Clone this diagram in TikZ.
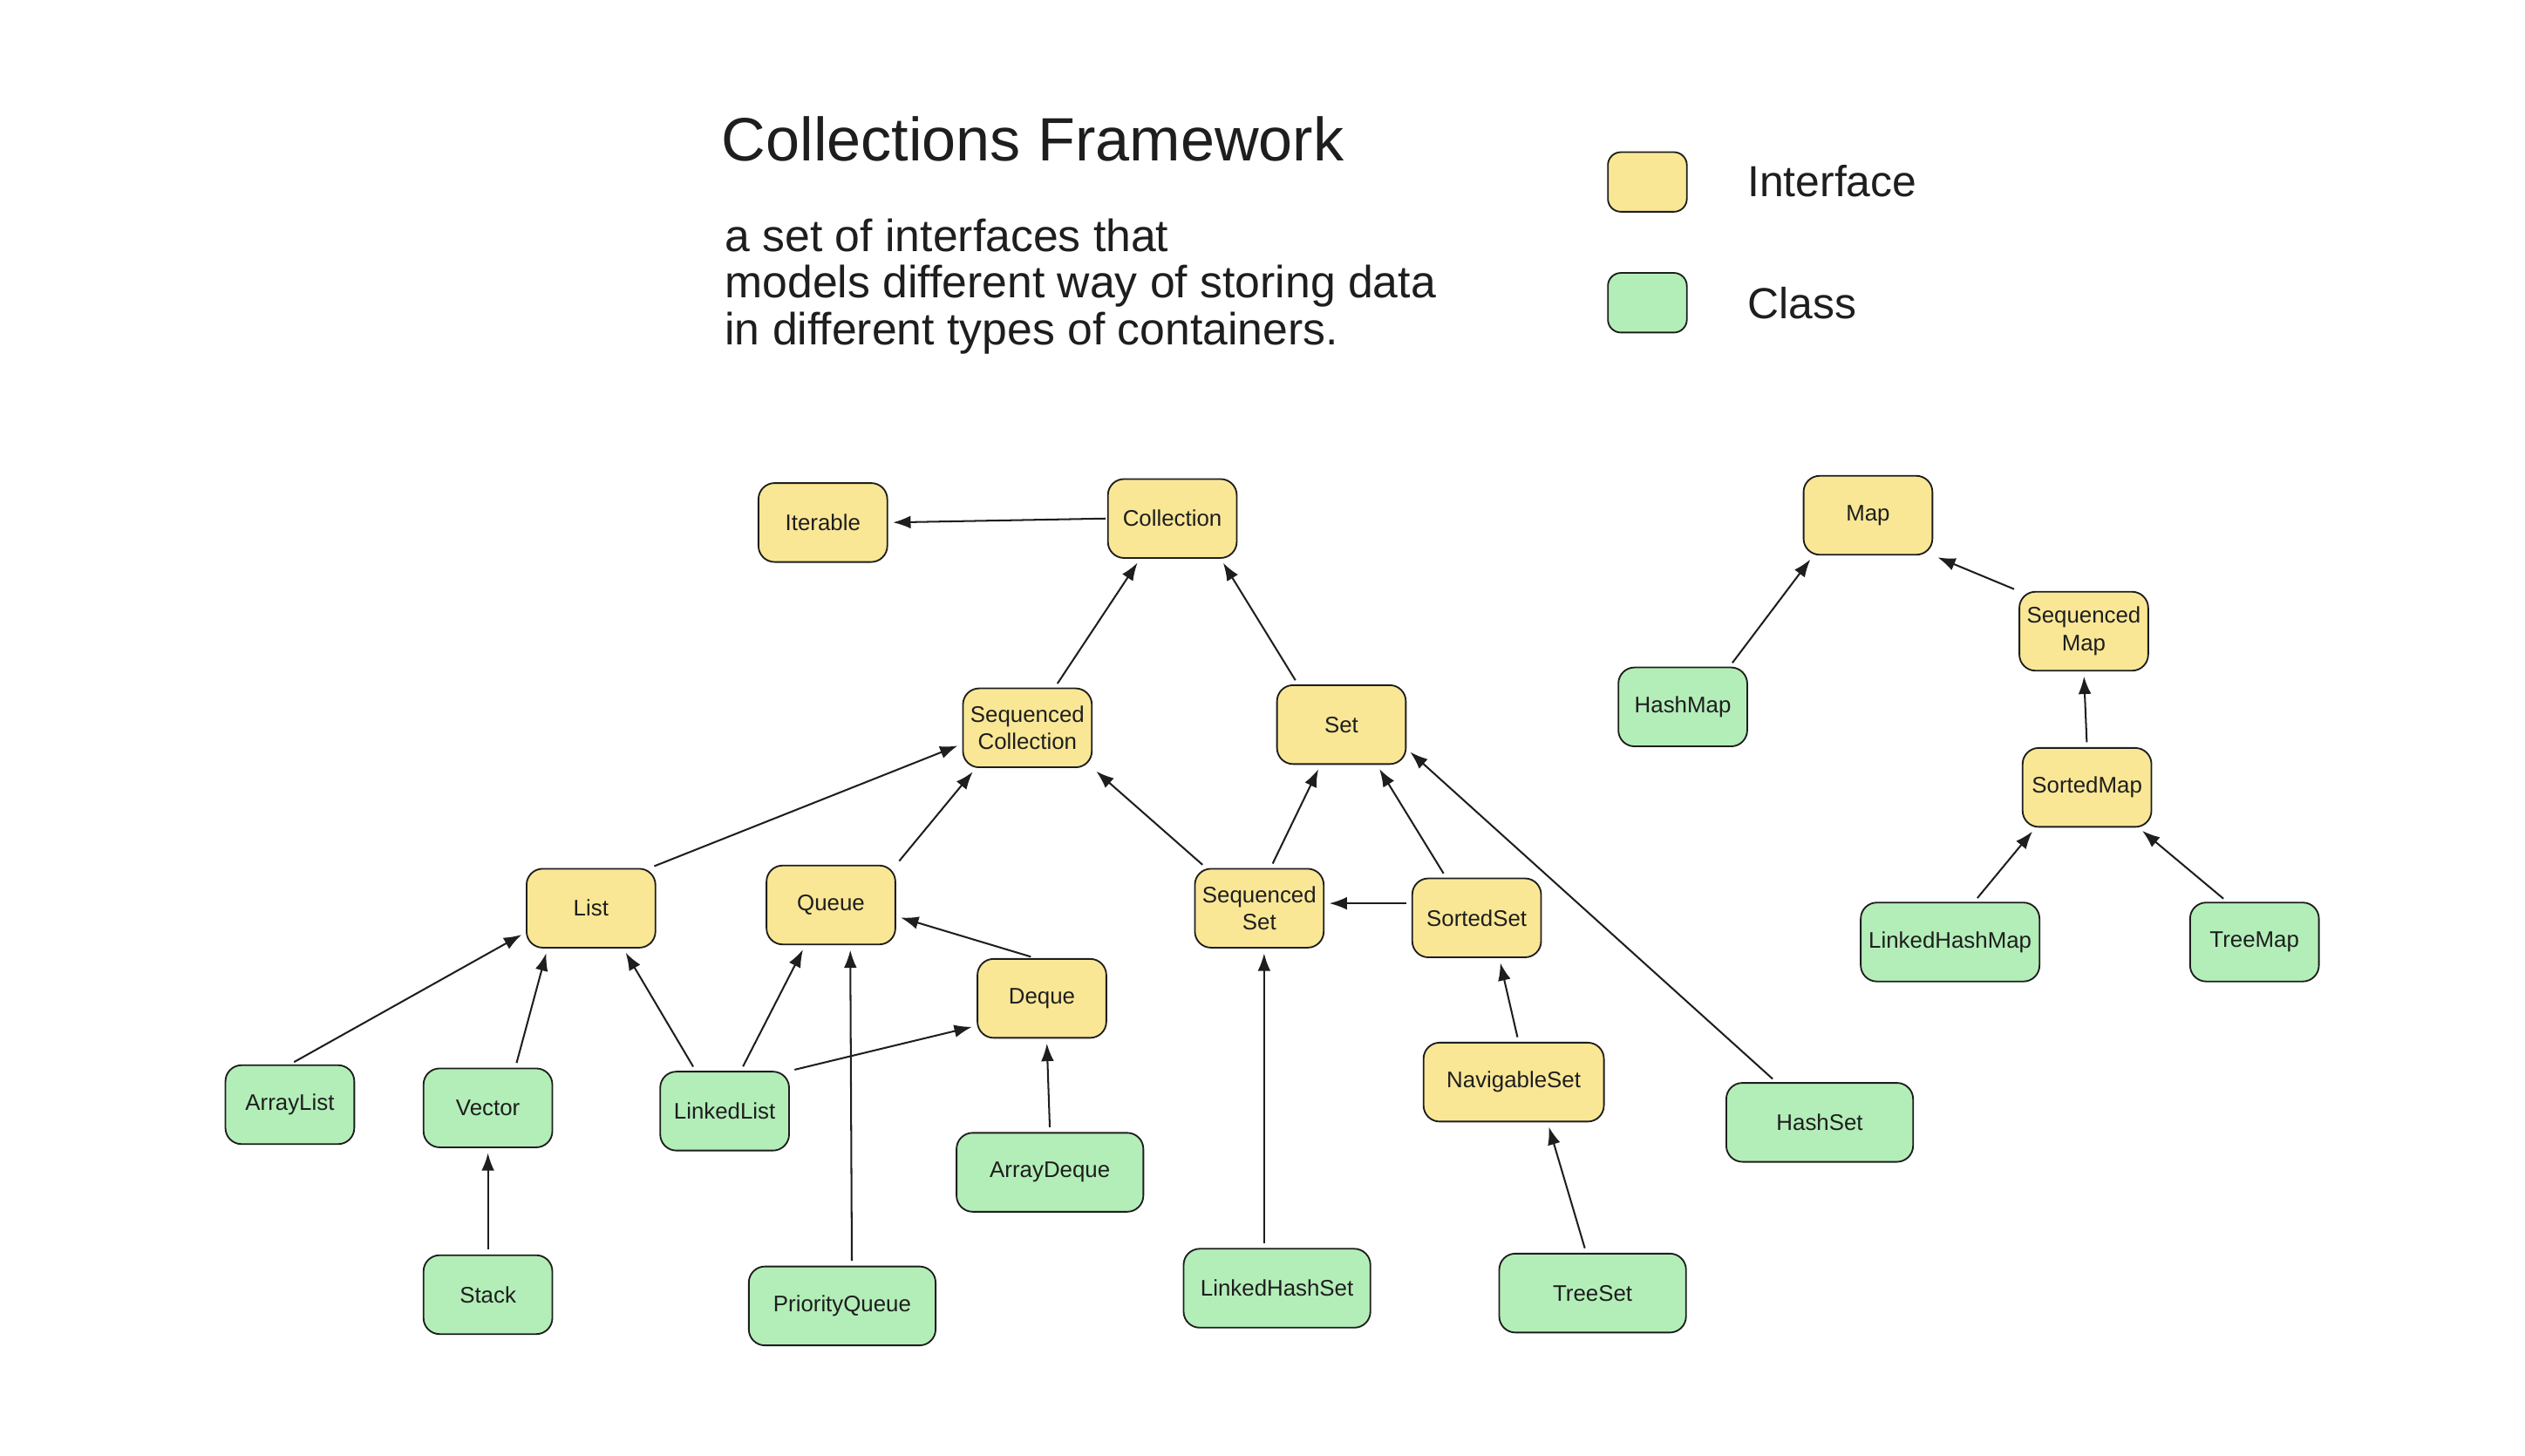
\documentclass[tikz,border=0pt]{standalone}
\usepackage{fontspec}
\setmainfont{Liberation Sans}
\usetikzlibrary{arrows.meta}
\definecolor{ifc}{HTML}{F9E796}
\definecolor{clc}{HTML}{B3EEB8}
\definecolor{ink}{HTML}{1E1E1E}
\begin{document}
\begin{tikzpicture}[x=1pt,y=-1pt,
 box/.style={draw=ink,line width=1pt,rounded corners=10pt,minimum width=80pt,minimum height=49pt,inner sep=2pt,font=\fontsize{14}{17}\selectfont,align=center,text=ink},
 ifbox/.style={box,fill=ifc},
 clbox/.style={box,fill=clc},
 wide/.style={minimum width=116pt},
 txt/.style={anchor=base west,inner sep=0pt,text=ink},
 conn/.style={draw=ink,line width=1.1pt,-{Latex[length=11pt,width=8pt]},shorten <=3pt,shorten >=3pt}]
\useasboundingbox (0,0) rectangle (1568,904);
% title and description
\node[txt,font=\fontsize{38}{40}\selectfont] (title) at (448,100) {Collections Framework};
\node[txt,font=\fontsize{28}{30}\selectfont] (d1) at (450,156) {a set of interfaces that};
\node[txt,font=\fontsize{28}{30}\selectfont] (d2) at (450,185) {models different way of storing data};
\node[txt,font=\fontsize{28}{30}\selectfont] (d3) at (450,214) {in different types of containers.};
% legend
\node[ifbox,minimum width=49pt,minimum height=37pt,rounded corners=8pt] (legi) at (1023,113) {};
\node[txt,font=\fontsize{27}{30}\selectfont] (legit) at (1085,122) {Interface};
\node[clbox,minimum width=49pt,minimum height=37pt,rounded corners=8pt] (legc) at (1023,188) {};
\node[txt,font=\fontsize{27}{30}\selectfont] (legct) at (1085,198) {Class};
% nodes
\node[ifbox] (iter) at (511,324.5) {Iterable};
\node[ifbox] (coll) at (728,322) {Collection};
\node[ifbox] (sc) at (638,452) {Sequenced\\Collection};
\node[ifbox] (set) at (833,450) {Set};
\node[ifbox] (list) at (367,564) {List};
\node[ifbox] (queue) at (516,562) {Queue};
\node[ifbox] (deque) at (647,620) {Deque};
\node[ifbox] (ss) at (782,564) {Sequenced\\Set};
\node[ifbox] (sos) at (917,570) {SortedSet};
\node[ifbox,minimum width=112pt] (ns) at (940,672) {NavigableSet};
\node[clbox] (al) at (180,686) {ArrayList};
\node[clbox] (vec) at (303,688) {Vector};
\node[clbox] (ll) at (450,690) {LinkedList};
\node[clbox,wide] (ad) at (652,728) {ArrayDeque};
\node[clbox] (stack) at (303,804) {Stack};
\node[clbox,wide] (pq) at (523,811) {PriorityQueue};
\node[clbox,wide] (lhs) at (793,800) {LinkedHashSet};
\node[clbox,wide] (ts) at (989,803) {TreeSet};
\node[clbox,wide] (hs) at (1130,697) {HashSet};
\node[ifbox] (map) at (1160,320) {Map};
\node[ifbox] (smap) at (1294,392) {Sequenced\\Map};
\node[clbox] (hm) at (1045,439) {HashMap};
\node[ifbox] (sortmap) at (1296,489) {SortedMap};
\node[clbox,minimum width=111pt] (lhm) at (1211,585) {LinkedHashMap};
\node[clbox] (tm) at (1400,585) {TreeMap};
% connectors
\draw[conn,shorten <=1pt] (coll.west) -- (iter.east);
\draw[conn] ([xshift=17pt]sc.north) -- ([xshift=-20pt]coll.south);
\draw[conn] ([xshift=-27pt]set.north) -- ([xshift=30pt]coll.south);
\draw[conn] ([xshift=-4pt]list.north east) -- ([yshift=-10pt]sc.west);
\draw[conn] (queue.north east) -- ([xshift=-32pt]sc.south);
\draw[conn] ([xshift=-33pt]ss.north) -- (sc.south east);
\draw[conn] ([xshift=7pt]ss.north) -- ([xshift=-13pt]set.south);
\draw[conn] ([xshift=-19pt]sos.north) -- ([xshift=22pt]set.south);
\draw[conn] ([yshift=9pt]sos.west) -- ([yshift=3pt]ss.east);
\draw[conn] ([xshift=-27pt]hs.north) -- ([yshift=-15pt]set.east);
\draw[conn] (al.north) -- ([yshift=-15pt]list.west);
\draw[conn] ([xshift=17pt]vec.north) -- ([xshift=-27pt]list.south);
\draw[conn] ([xshift=-18pt]ll.north) -- ([xshift=20pt]list.south);
\draw[conn] ([xshift=10pt]ll.north) -- ([xshift=-16pt]queue.south);
\draw[conn] (ll.north east) -- ([yshift=-17pt]deque.west);
\draw[conn] ([xshift=-4pt]deque.north) -- ([yshift=-7pt]queue.east);
\draw[conn] (ad.north) -- ([xshift=3pt]deque.south);
\draw[conn] (stack.north) -- (vec.south);
\draw[conn] ([xshift=6pt]pq.north) -- ([xshift=12pt]queue.south);
\draw[conn] ([xshift=-8pt]lhs.north) -- ([xshift=3pt]ss.south);
\draw[conn] ([xshift=3pt]ns.north) -- ([xshift=14pt]sos.south);
\draw[conn] ([xshift=-4pt]ts.north) -- ([xshift=21pt]ns.south);
\draw[conn] ([xshift=29pt]hm.north) -- ([xshift=-34pt]map.south);
\draw[conn] (smap.north west) -- (map.south east);
\draw[conn] (sortmap.north) -- (smap.south);
\draw[conn] ([xshift=15pt]lhm.north) -- ([xshift=-32pt]sortmap.south);
\draw[conn] ([xshift=-17pt]tm.north) -- ([xshift=32pt]sortmap.south);
\end{tikzpicture}
\end{document}
